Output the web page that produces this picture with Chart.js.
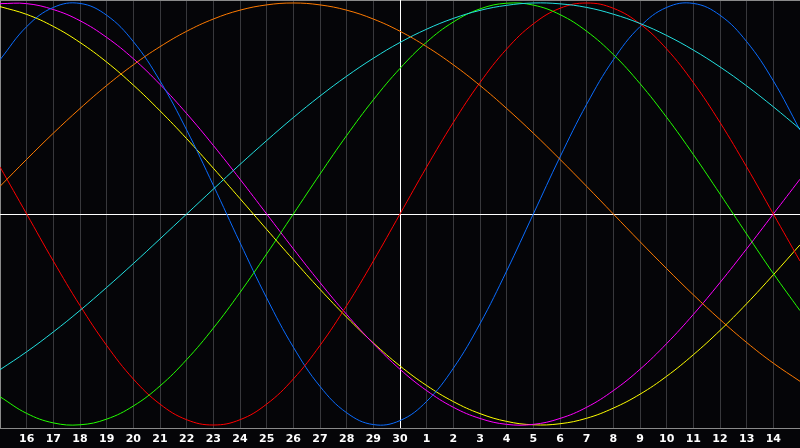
<!DOCTYPE html>
<html>
<head>
<meta charset="utf-8">
<script src="https://cdn.jsdelivr.net/npm/chart.js@4/dist/chart.umd.min.js"></script>
<style>
html,body{margin:0;padding:0;background:#050508;}
#wrap{width:800px;height:448px;}
</style>
</head>
<body>
<div id="wrap"><canvas id="c" width="800" height="448"></canvas></div>
<script>
// day index 0..30 (index 0 = 15th of previous month, index 15 = 30th)
const dayIndex = [0,1,2,3,4,5,6,7,8,9,10,11,12,13,14,15,16,17,18,19,20,21,22,23,24,25,26,27,28,29,30];
const tickIndex = [1,2,3,4,5,6,7,8,9,10,11,12,13,14,15,16,17,18,19,20,21,22,23,24,25,26,27,28,29];
const dayLabels = ['16','17','18','19','20','21','22','23','24','25','26','27','28','29','30','1','2','3','4','5','6','7','8','9','10','11','12','13','14'];

const redVals     = [22.3,0,-22.3,-43.4,-62.3,-78.2,-90.1,-97.5,-100,-97.5,-90.1,-78.2,-62.3,-43.4,-22.3,0,22.3,43.4,62.3,78.2,90.1,97.5,100,97.5,90.1,78.2,62.3,43.4,22.3,0,-22.3];
const blueVals    = [73.1,88.8,97.9,99.8,94.2,81.7,63.1,39.8,13.6,-13.6,-39.8,-63.1,-81.7,-94.2,-99.8,-97.9,-88.8,-73.1,-52.0,-27.0,0,27.0,52.0,73.1,88.8,97.9,99.8,94.2,81.7,63.1,39.8];
const greenVals   = [-86.6,-94.5,-99.0,-99.9,-97.2,-91.0,-81.5,-69.0,-54.1,-37.2,-18.9,0,18.9,37.2,54.1,69.0,81.5,91.0,97.2,99.9,99.0,94.5,86.6,75.6,61.8,45.8,28.2,9.5,-9.5,-28.2,-45.8];
const magentaVals = [99.7,99.7,96.9,91.6,83.7,73.6,61.4,47.6,32.5,16.5,0,-16.5,-32.5,-47.6,-61.4,-73.6,-83.7,-91.6,-96.9,-99.7,-99.7,-96.9,-91.6,-83.7,-73.6,-61.4,-47.6,-32.5,-16.5,0,16.5];
const yellowVals  = [98.3,94.6,88.9,81.3,72.0,61.1,48.9,35.7,21.7,7.3,-7.3,-21.7,-35.7,-48.9,-61.1,-72.0,-81.3,-88.9,-94.6,-98.3,-99.9,-99.4,-96.8,-92.0,-85.4,-76.9,-66.7,-55.2,-42.5,-28.8,-14.6];
const orangeVals  = [13.1,25.9,38.3,50.0,60.9,70.7,79.3,86.6,92.4,96.6,99.1,100,99.1,96.6,92.4,86.6,79.3,70.7,60.9,50.0,38.3,25.9,13.1,0,-13.1,-25.9,-38.3,-50.0,-60.9,-70.7,-79.3];
const cyanVals    = [-73.8,-65.3,-55.9,-45.7,-34.8,-23.5,-11.8,0,11.8,23.5,34.8,45.7,55.9,65.3,73.8,81.3,87.6,92.7,96.5,98.9,100,99.6,97.9,94.7,90.3,84.6,77.7,69.7,60.7,50.8,40.3];

const seriesList = [
  {vals: orangeVals,  color: '#ff7a00'},
  {vals: cyanVals,    color: '#22e0e0'},
  {vals: greenVals,   color: '#22ff00'},
  {vals: redVals,     color: '#ff0000'},
  {vals: blueVals,    color: '#0a6cff'},
  {vals: magentaVals, color: '#ff00ff'},
  {vals: yellowVals,  color: '#ffff00'}
];

const bgPlugin = {
  id: 'bg',
  beforeDraw(chart) {
    const ctx = chart.ctx;
    ctx.save();
    ctx.fillStyle = '#050508';
    ctx.fillRect(0, 0, chart.width, chart.height);
    ctx.restore();
  },
  beforeDatasetsDraw(chart) {
    const ctx = chart.ctx;
    const a = chart.chartArea;
    const xs = chart.scales.x, ys = chart.scales.y;
    ctx.save();
    ctx.fillStyle = '#8a8a8a';
    ctx.fillRect(a.left, a.top, a.right - a.left, 1);
    ctx.fillRect(a.left, a.top, 1, a.bottom - a.top);
    ctx.fillRect(a.left, a.bottom, a.right - a.left, 1);
    ctx.fillStyle = '#ffffff';
    const cx = Math.round(xs.getPixelForValue(15));
    ctx.fillRect(cx, a.top, 1, a.bottom - a.top);
    const cy = Math.round(ys.getPixelForValue(0));
    ctx.fillRect(a.left, cy, a.right - a.left, 1);
    ctx.restore();
  }
};

new Chart(document.getElementById('c'), {
  type: 'line',
  data: {
    datasets: seriesList.map(s => ({
      data: s.vals.map((v, i) => ({x: dayIndex[i], y: v})),
      borderColor: s.color,
      borderWidth: 1,
      pointRadius: 0,
      tension: 0.4,
      fill: false
    }))
  },
  options: {
    responsive: false,
    animation: false,
    devicePixelRatio: 1,
    layout: {padding: 0},
    plugins: {legend: {display: false}, tooltip: {enabled: false}},
    scales: {
      x: {
        type: 'linear',
        min: 0, max: 30,
        afterBuildTicks: (scale) => { scale.ticks = tickIndex.map(v => ({value: v})); },
        afterFit: (scale) => { scale.height = 20; },
        grid: {
          color: (c) => (c.tick && c.tick.value === 15) ? 'rgba(0,0,0,0)' : '#38383c',
          lineWidth: 1,
          drawTicks: false
        },
        border: {display: false},
        ticks: {
          autoSkip: false,
          maxRotation: 0,
          padding: 5,
          color: '#ffffff',
          font: {family: 'DejaVu Sans', size: 11, weight: 'bold'},
          callback: (v) => dayLabels[v - 1]
        }
      },
      y: {
        display: false,
        min: -101.42, max: 101.42
      }
    }
  },
  plugins: [bgPlugin]
});
</script>
</body>
</html>
